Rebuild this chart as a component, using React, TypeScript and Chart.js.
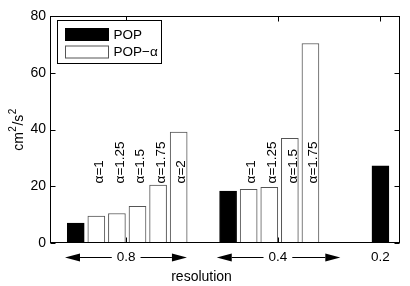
import React, { useEffect, useRef } from "react";
import { Chart, registerables } from "chart.js";
Chart.register(...registerables);

// ---- data ----
const groupLabels = ["0.8", "0.4", "0.2"];
const groupCenters = [3.7, 11.07, 16.05];
const arrowStarts = [0.73, 8.1];
const arrowEnds = [6.65, 14.1];
const popX = [1.25, 8.65, 16.05];
const popValues = [7.0, 18.3, 27.2];
const alphaX = [2.25, 3.25, 4.25, 5.25, 6.25, 9.65, 10.65, 11.65, 12.65];
const alphaValues = [9.5, 10.4, 12.9, 20.4, 39.1, 18.9, 19.6, 36.9, 70.3];
const alphaLabels = ["α=1", "α=1.25", "α=1.5", "α=1.75", "α=2", "α=1", "α=1.25", "α=1.5", "α=1.75"];
const yTicks = [0, 20, 40, 60, 80];
const seriesNames = ["POP", "POP−α"];
const xTitle = "resolution";
// y title pieces: [text, isSuperscript]
const yTitleParts: [string, boolean][] = [["cm", false], ["2", true], ["/s", false], ["2", true]];

const FONT = '"Liberation Sans", Arial, Helvetica, sans-serif';

const decor = {
  id: "decor",
  afterDatasetsDraw(chart: any) {
    const { ctx, scales } = chart;
    const x = scales.x;
    const y = scales.y;
    ctx.save();
    ctx.fillStyle = "#000";
    ctx.font = `13.5px ${FONT}`;
    alphaLabels.forEach((lab, i) => {
      const px = x.getPixelForValue(alphaX[i]) + 3;
      const py = y.getPixelForValue(21);
      ctx.save();
      ctx.translate(px, py);
      ctx.rotate(-Math.PI / 2);
      ctx.textAlign = "left";
      ctx.textBaseline = "middle";
      ctx.fillText(lab, 0, 0);
      ctx.restore();
    });
    ctx.restore();
  },
  afterDraw(chart: any) {
    const { ctx, chartArea: a, scales } = chart;
    const x = scales.x;
    const y = scales.y;
    ctx.save();
    ctx.strokeStyle = "#000";
    ctx.lineWidth = 1;
    const L = Math.round(a.left) + 0.5;
    const R = Math.round(a.right) - 0.5;
    const T = Math.round(a.top) + 0.5;
    const B = Math.round(a.bottom) - 0.5;
    ctx.strokeRect(L, T, R - L, B - T);
    ctx.beginPath();
    yTicks.forEach((v) => {
      const py = Math.round(y.getPixelForValue(v)) + 0.5;
      ctx.moveTo(L, py);
      ctx.lineTo(L + 5, py);
      ctx.moveTo(R - 5, py);
      ctx.lineTo(R, py);
    });
    groupCenters.forEach((c) => {
      const px = Math.round(x.getPixelForValue(c)) + 0.5;
      ctx.moveTo(px, B);
      ctx.lineTo(px, B - 5);
      ctx.moveTo(px, T);
      ctx.lineTo(px, T + 5);
    });
    ctx.stroke();

    ctx.fillStyle = "#000";
    ctx.font = `13.5px ${FONT}`;
    ctx.textAlign = "center";
    ctx.textBaseline = "middle";
    const ly = 257.5;
    groupLabels.forEach((lab, i) => {
      const cx = x.getPixelForValue(groupCenters[i]);
      ctx.fillText(lab, cx, ly);
      if (i < arrowStarts.length) {
        const w = ctx.measureText(lab).width;
        const lx = x.getPixelForValue(arrowStarts[i]);
        const rx = x.getPixelForValue(arrowEnds[i]);
        const head = 15;
        const hh = 4;
        ctx.beginPath();
        ctx.moveTo(lx + head, ly);
        ctx.lineTo(cx - w / 2 - 5, ly);
        ctx.moveTo(cx + w / 2 + 5, ly);
        ctx.lineTo(rx - head, ly);
        ctx.stroke();
        ctx.beginPath();
        ctx.moveTo(lx, ly);
        ctx.lineTo(lx + head, ly - hh);
        ctx.lineTo(lx + head, ly + hh);
        ctx.closePath();
        ctx.fill();
        ctx.beginPath();
        ctx.moveTo(rx, ly);
        ctx.lineTo(rx - head, ly - hh);
        ctx.lineTo(rx - head, ly + hh);
        ctx.closePath();
        ctx.fill();
      }
    });

    ctx.font = `14px ${FONT}`;
    ctx.fillText(xTitle, x.getPixelForValue(7.36), 277.5);

    // y title with superscripts
    ctx.save();
    ctx.translate(23, (a.top + a.bottom) / 2);
    ctx.rotate(-Math.PI / 2);
    ctx.textAlign = "left";
    ctx.textBaseline = "alphabetic";
    const normal = `14px ${FONT}`;
    const sup = `10px ${FONT}`;
    let total = 0;
    yTitleParts.forEach(([t, s]) => {
      ctx.font = s ? sup : normal;
      total += ctx.measureText(t).width + (s ? 1 : 0);
    });
    let cur = -total / 2;
    yTitleParts.forEach(([t, s]) => {
      ctx.font = s ? sup : normal;
      ctx.fillText(t, cur + (s ? 0.5 : 0), s ? -7 : 0);
      cur += ctx.measureText(t).width + (s ? 1 : 0);
    });
    ctx.restore();

    // legend
    const ds = chart.data.datasets;
    const bx = Math.round(a.left) + 7.5;
    const by = Math.round(a.top) + 4.5;
    ctx.fillStyle = "#fff";
    ctx.fillRect(bx, by, 104, 43);
    ctx.strokeStyle = "#000";
    ctx.strokeRect(bx, by, 104, 43);
    ds.forEach((d: any, i: number) => {
      const ry = by + 8 + i * 17.5;
      ctx.fillStyle = d.backgroundColor;
      ctx.fillRect(bx + 8, ry, 43, 12);
      ctx.strokeStyle = d.borderColor;
      ctx.strokeRect(bx + 8, ry, 43, 12);
      ctx.fillStyle = "#000";
      ctx.font = `13.5px ${FONT}`;
      ctx.textAlign = "left";
      ctx.textBaseline = "middle";
      ctx.fillText(d.label, bx + 56, ry + 6.5);
    });
    ctx.restore();
  },
};

export default function App() {
  const ref = useRef<HTMLCanvasElement>(null);
  useEffect(() => {
    if (!ref.current) return;
    const chart = new Chart(ref.current, {
      type: "bar",
      data: {
        datasets: [
          {
            label: seriesNames[0],
            data: popX.map((xv, i) => ({ x: xv, y: popValues[i] })),
            backgroundColor: "#000",
            borderColor: "#000",
            borderWidth: 1,
            barThickness: 17,
            grouped: false,
          } as any,
          {
            label: seriesNames[1],
            data: alphaX.map((xv, i) => ({ x: xv, y: alphaValues[i] })),
            backgroundColor: "#fff",
            borderColor: "#555",
            borderWidth: 1,
            barThickness: 17,
            grouped: false,
          } as any,
        ],
      },
      options: {
        animation: false,
        responsive: false,
        layout: { padding: { top: 16, right: 10, bottom: 43, left: 0 } },
        plugins: { legend: { display: false }, tooltip: { enabled: false } },
        scales: {
          x: { type: "linear", min: 0, max: 17, display: false, offset: false },
          y: {
            min: 0,
            max: 80,
            afterBuildTicks: (s: any) => {
              s.ticks = yTicks.map((v) => ({ value: v }));
            },
            afterFit: (s: any) => {
              s.width = 50;
            },
            grid: { display: false, drawTicks: false },
            border: { display: false },
            ticks: { color: "#000", padding: 4, font: { family: FONT, size: 14 } },
          },
        },
      },
      plugins: [decor],
    });
    return () => chart.destroy();
  }, []);
  return (
    <div style={{ position: "absolute", left: 0, top: 0, width: 410, height: 286 }}>
      <canvas ref={ref} width={410} height={286} />
    </div>
  );
}
